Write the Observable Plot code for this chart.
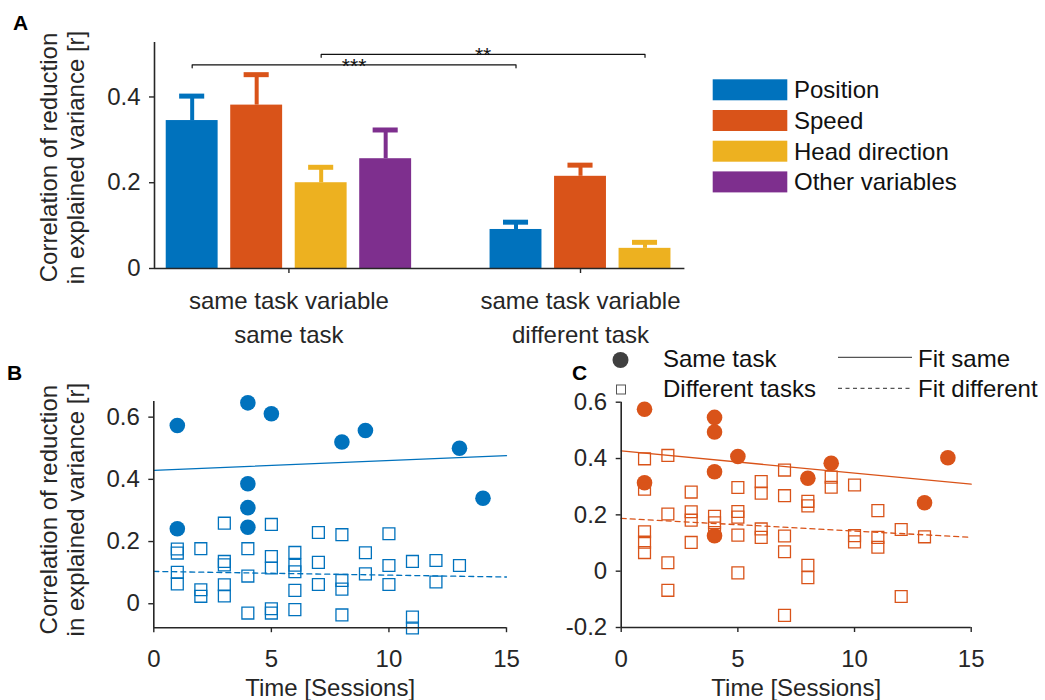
<!DOCTYPE html>
<html>
<head>
<meta charset="utf-8">
<script src="https://cdn.jsdelivr.net/npm/d3@7"></script>
<script src="https://cdn.jsdelivr.net/npm/@observablehq/plot@0.6"></script>
<style>
  body { margin: 0; background: #fff; }
  #fig { position: relative; width: 1045px; height: 700px; overflow: hidden; background: #fff; }
  #fig > svg { position: absolute; }
</style>
</head>
<body>
<div id="fig"></div>
<script>
// ---------------- Panel A data ----------------
const variables = ["Position", "Speed", "Head direction", "Other variables"];
const variableColors = ["#0072BD", "#D95319", "#EDB120", "#7E2F8E"];
const groups = ["same task variable\nsame task", "same task variable\ndifferent task"];
const barGroup = [0, 0, 0, 0, 1, 1, 1];
const barVariable = [0, 1, 2, 3, 0, 1, 2];
const barValues = [0.345, 0.381, 0.200, 0.256, 0.091, 0.215, 0.047];
const barErrors = [0.057, 0.071, 0.036, 0.067, 0.017, 0.026, 0.014];
const sigFrom = [0, 2];
const sigTo = [4, 6];
const sigLevel = [0.475, 0.4995];
const sigLabel = ["***", "**"];
const yTicksA = [0, 0.2, 0.4];
const xDomainA = [0.539, 2.358];
const yDomainA = [0, 0.527];
const yLabel = "Correlation of reduction\nin explained variance [r]";

// ---------------- Panel B data ----------------
const sessSameB = [1, 1, 4, 4, 4, 4, 5, 8, 9, 13, 14];
const valSameB = [0.573, 0.241, 0.646, 0.386, 0.309, 0.246, 0.611, 0.520, 0.557, 0.500, 0.339];
const sessDiffB = [1, 1, 1, 1, 2, 2, 2, 3, 3, 3, 3, 3, 4, 4, 4, 5, 5, 5, 5, 5, 6, 6, 6, 6, 6,
                   7, 7, 7, 8, 8, 8, 8, 9, 9, 10, 10, 10, 11, 11, 11, 12, 12, 13];
const valDiffB = [0.176, 0.163, 0.101, 0.064, 0.177, 0.045, 0.024, 0.259, 0.136, 0.125, 0.061, 0.025,
                  0.177, 0.089, -0.030, 0.255, 0.152, 0.115, -0.016, -0.030,
                  0.165, 0.124, 0.103, 0.043, -0.019, 0.229, 0.133, 0.062,
                  0.222, 0.075, 0.047, -0.036, 0.164, 0.096, 0.225, 0.123, 0.062,
                  0.136, -0.043, -0.078, 0.139, 0.070, 0.123];
// fitted lines, values at sessions 0 and 15
const fitSameB = [0.429, 0.476];
const fitDiffB = [0.104, 0.086];
const yTicksB = [0, 0.2, 0.4, 0.6];
const yDomainB = [-0.077, 0.65];

// ---------------- Panel C data ----------------
const sessSameC = [1, 1, 4, 4, 4, 4, 5, 8, 9, 13, 14];
const valSameC = [0.575, 0.314, 0.546, 0.494, 0.353, 0.126, 0.407, 0.330, 0.383, 0.243, 0.403];
const sessDiffC = [1, 1, 1, 1, 1, 2, 2, 2, 2, 3, 3, 3, 3, 4, 4, 4, 5, 5, 5, 5, 5, 6, 6, 6, 6,
                   7, 7, 7, 7, 7, 8, 8, 8, 8, 9, 9, 10, 10, 10, 11, 11, 11, 12, 12, 13];
const valDiffC = [0.399, 0.291, 0.140, 0.103, 0.066, 0.411, 0.203, 0.030, -0.068,
                  0.281, 0.211, 0.181, 0.102, 0.195, 0.172, 0.137,
                  0.297, 0.212, 0.192, 0.128, -0.006, 0.318, 0.277, 0.150, 0.120,
                  0.359, 0.268, 0.125, 0.069, -0.157, 0.248, 0.232, 0.021, -0.023,
                  0.334, 0.298, 0.306, 0.126, 0.104, 0.215, 0.120, 0.085, 0.148, -0.090, 0.122];
const fitSameC = [0.427, 0.309];
const fitDiffC = [0.1875, 0.120];
const yTicksC = [-0.2, 0, 0.2, 0.4, 0.6];
const yDomainC = [-0.2, 0.6];

const xTicksTime = [0, 5, 10, 15];
const xDomainTime = [0, 15];
const xLabelTime = "Time [Sessions]";
const legendMarkers = ["Same task", "Different tasks"];
const legendFits = ["Fit same", "Fit different"];

// ---------------- common style ----------------
const font = '"Liberation Sans", Arial, Helvetica, sans-serif';
const ink = "#262626";
const baseStyle = {fontFamily: font, fontSize: "24px", color: ink, background: "transparent", overflow: "visible"};
const fmt = d => String(d);
const fig = document.getElementById("fig");
function place(el, left, top) {
  el.style.left = left + "px";
  el.style.top = top + "px";
  fig.appendChild(el);
}

// ---------------- Panel A ----------------
const groupCount = groups.map((_, g) => barGroup.filter(v => v === g).length);
const step = 0.2212, barW = 0.178, capHalf = 0.043, tickLen = 0.007;
const bars = barValues.map((v, i) => {
  const g = barGroup[i];
  const k = barGroup.slice(0, i).filter(u => u === g).length;
  const c = g + 1 + (k - (groupCount[g] - 1) / 2) * step;
  return {c, x1: c - barW / 2, x2: c + barW / 2, value: v, top: v + barErrors[i],
          color: variableColors[barVariable[i]]};
});
const sigLines = sigLabel.flatMap((lab, j) => {
  const a = bars[sigFrom[j]].c, b = bars[sigTo[j]].c, y = sigLevel[j];
  return [{j, x: a, y: y - tickLen}, {j, x: a, y}, {j, x: b, y}, {j, x: b, y: y - tickLen}];
});

const yLabelMark = (marginLeft, dy) => Plot.text([yLabel], {
  frameAnchor: "left", rotate: -90, textAnchor: "middle",
  dx: 61 - marginLeft, dy, lineHeight: 1.125, fill: ink
});

const plotA = Plot.plot({
  width: 700, height: 350,
  marginLeft: 154, marginRight: 15.6, marginTop: 42, marginBottom: 82,
  x: {type: "linear", domain: xDomainA},
  y: {domain: yDomainA},
  color: {type: "identity"},
  style: baseStyle,
  marks: [
    Plot.rectY(bars, {x1: "x1", x2: "x2", y1: () => 0, y2: "value", fill: "color"}),
    Plot.ruleX(bars, {x: "c", y1: "value", y2: "top", stroke: "color", strokeWidth: 4}),
    Plot.ruleY(bars, {y: "top", x1: d => d.c - capHalf, x2: d => d.c + capHalf, stroke: "color", strokeWidth: 5}),
    Plot.line(sigLines, {x: "x", y: "y", z: "j", stroke: "#111", strokeWidth: 1.2}),
    Plot.text(sigLabel, {x: (d, j) => (bars[sigFrom[j]].c + bars[sigTo[j]].c) / 2, y: (d, j) => sigLevel[j],
      lineAnchor: "bottom", dy: 8, fontSize: 21, fill: "#111"}),
    Plot.axisY({ticks: yTicksA, tickSize: 5, tickPadding: 9, label: null, tickFormat: fmt, strokeWidth: 1.4}),
    Plot.axisX({ticks: [1, 2], tickSize: 5, tickFormat: () => "", label: null, strokeWidth: 1.4}),
    Plot.ruleX([xDomainA[0]], {stroke: ink, strokeWidth: 1.6}),
    Plot.ruleY([yDomainA[0]], {stroke: ink, strokeWidth: 1.6}),
    Plot.text(groups, {x: (d, i) => i + 1, frameAnchor: "bottom", lineAnchor: "top", dy: 17, lineHeight: 1.4, fill: ink}),
    yLabelMark(154, 2)
  ]
});
place(plotA, 0, 0);

// ---------------- Panels B & C ----------------
function scatterPanel({sessSame, valSame, sessDiff, valDiff, fitSame, fitDiff, color, yTicks, yDomain, width, marginLeft, marginRight, marginTop, marginBottom, withYLabel}) {
  const same = sessSame.map((x, i) => ({x, y: valSame[i]}));
  const diff = sessDiff.map((x, i) => ({x, y: valDiff[i]}));
  const fitS = xDomainTime.map((x, i) => ({x, y: fitSame[i]}));
  const fitD = xDomainTime.map((x, i) => ({x, y: fitDiff[i]}));
  const marks = [
    Plot.dot(same, {x: "x", y: "y", r: 7.8, fill: color, stroke: "none"}),
    Plot.dot(diff, {x: "x", y: "y", symbol: "square", r: 6.7, fill: "none", stroke: color, strokeWidth: 1.3}),
    Plot.line(fitS, {x: "x", y: "y", stroke: color, strokeWidth: 1.3}),
    Plot.line(fitD, {x: "x", y: "y", stroke: color, strokeWidth: 1.3, strokeDasharray: "5,4"}),
    Plot.axisY({ticks: yTicks, tickSize: 5, tickPadding: 9, label: null, tickFormat: fmt, strokeWidth: 1.4}),
    Plot.axisX({ticks: xTicksTime, tickSize: 5, tickPadding: 17, label: null, tickFormat: fmt, strokeWidth: 1.4}),
    Plot.ruleX([xDomainTime[0]], {stroke: ink, strokeWidth: 1.6}),
    Plot.ruleY([yDomain[0]], {stroke: ink, strokeWidth: 1.6}),
    Plot.text([xLabelTime], {frameAnchor: "bottom", lineAnchor: "bottom", dy: 68, fill: ink})
  ];
  if (withYLabel) marks.push(yLabelMark(marginLeft, -5));
  return Plot.plot({
    width, height: 320, marginLeft, marginRight, marginTop, marginBottom,
    x: {domain: xDomainTime},
    y: {domain: yDomain},
    style: baseStyle,
    marks
  });
}

const plotB = scatterPanel({
  sessSame: sessSameB, valSame: valSameB, sessDiff: sessDiffB, valDiff: valDiffB,
  fitSame: fitSameB, fitDiff: fitDiffB,
  color: "#0072BD", yTicks: yTicksB, yDomain: yDomainB,
  width: 520, marginLeft: 153.3, marginRight: 14, marginTop: 21.1, marginBottom: 72.8, withYLabel: true
});
place(plotB, 0, 380);

const plotC = scatterPanel({
  sessSame: sessSameC, valSame: valSameC, sessDiff: sessDiffC, valDiff: valDiffC,
  fitSame: fitSameC, fitDiff: fitDiffC,
  color: "#D95319", yTicks: yTicksC, yDomain: yDomainC,
  width: 505, marginLeft: 80.7, marginRight: 74.3, marginTop: 21.7, marginBottom: 73, withYLabel: false
});
place(plotC, 540, 380);

// ---------------- Overlay: panel letters and legends ----------------
const ov = d3.select(fig).append("svg")
  .attr("width", 1045).attr("height", 700)
  .style("left", "0px").style("top", "0px")
  .style("font-family", font).style("pointer-events", "none");

ov.selectAll("text.panel").data([["A", 13, 30], ["B", 7, 380], ["C", 572, 380]]).join("text")
  .attr("class", "panel").attr("x", d => d[1]).attr("y", d => d[2])
  .attr("font-size", 21).attr("font-weight", "bold").attr("fill", "#000").text(d => d[0]);

// Legend A
const legA = ov.append("g").attr("transform", "translate(712.7,79.3)");
legA.selectAll("rect").data(variables).join("rect")
  .attr("x", 0).attr("y", (d, i) => i * 30.7).attr("width", 74.6).attr("height", 21)
  .attr("fill", (d, i) => variableColors[i]);
legA.selectAll("text").data(variables).join("text")
  .attr("x", 81.3).attr("y", (d, i) => 19 + i * 30.7)
  .attr("font-size", 24).attr("fill", "#111").text(d => d);

// Legend B/C
const legB = ov.append("g");
legB.append("circle").attr("cx", 620.5).attr("cy", 360).attr("r", 8).attr("fill", "#404040");
legB.append("rect").attr("x", 616.5).attr("y", 385).attr("width", 9).attr("height", 9)
  .attr("fill", "none").attr("stroke", "#555").attr("stroke-width", 1);
legB.selectAll("text.m").data(legendMarkers).join("text").attr("class", "m")
  .attr("x", 663).attr("y", (d, i) => 367 + i * 30).attr("font-size", 24).attr("fill", "#111").text(d => d);
legB.selectAll("line").data(legendFits).join("line")
  .attr("x1", 838).attr("x2", 912).attr("y1", (d, i) => 357.3 + i * 31).attr("y2", (d, i) => 357.3 + i * 31)
  .attr("stroke", "#555").attr("stroke-width", 1.2)
  .attr("stroke-dasharray", (d, i) => i ? "4,3.5" : null);
legB.selectAll("text.f").data(legendFits).join("text").attr("class", "f")
  .attr("x", 918).attr("y", (d, i) => 367 + i * 30).attr("font-size", 24).attr("fill", "#111").text(d => d);
</script>
</body>
</html>
